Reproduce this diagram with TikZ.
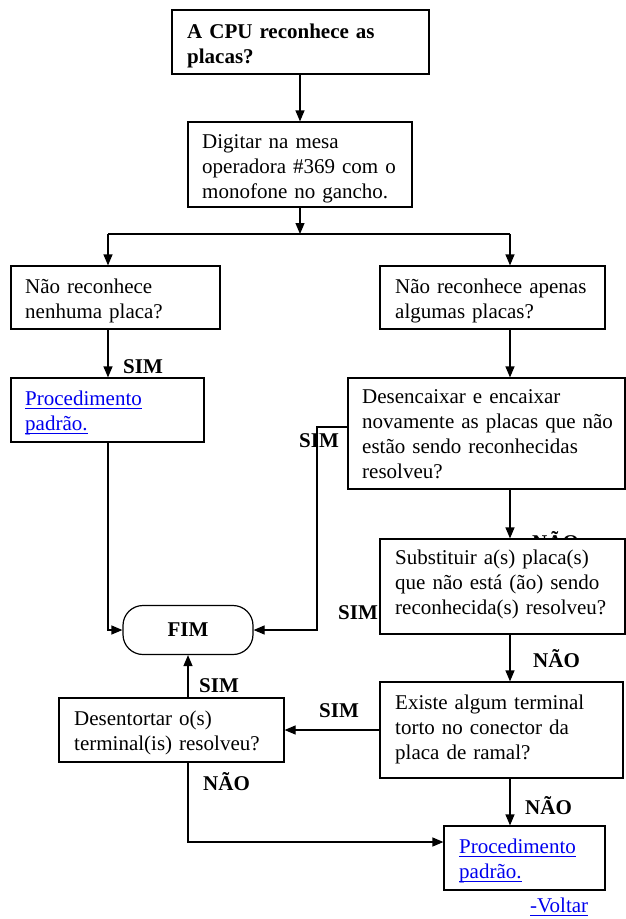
\documentclass[tikz,border=0pt]{standalone}
\usepackage{fontspec}
\setmainfont{Liberation Serif}
\usetikzlibrary{arrows.meta}
\definecolor{linkblue}{RGB}{0,0,238}
\newsavebox{\lnkbox}
\newcommand{\lnk}[1]{\textcolor{linkblue}{\sbox{\lnkbox}{#1}\rlap{\rule[-3.8pt]{\wd\lnkbox}{1.1pt}}\usebox{\lnkbox}}}
\begin{document}
\begin{tikzpicture}[x=1pt,y=-1pt,
 every node/.style={font=\fontsize{21}{25.2}\selectfont},
 box/.style={draw, line width=1.2pt, fill=white, inner sep=0pt},
 txt/.style={anchor=base west, align=left, inner sep=0pt, text width=300pt},
 lab/.style={anchor=base west, inner sep=0pt, font=\fontsize{21}{25.2}\selectfont\bfseries},
 arr/.style={line width=1.2pt, -{Triangle[length=11pt,width=9pt]}},
 ln/.style={line width=1.2pt}]
\useasboundingbox[fill=white] (0,0) rectangle (626,919);

% labels (drawn first so boxes can cover them)
\node[lab] (l1) at (123,373) {SIM};
\node[lab] (l2) at (299,447) {SIM};
\node[lab] (l3) at (532,549) {NÃO};
\node[lab] (l4) at (338,619) {SIM};
\node[lab] (l5) at (533,667) {NÃO};
\node[lab] (l6) at (319,717) {SIM};
\node[lab] (l7) at (199,692) {SIM};
\node[lab] (l8) at (203,790) {NÃO};
\node[lab] (l9) at (525,814) {NÃO};

% boxes
\node[box, minimum width=257pt, minimum height=64pt] (b1) at (300.5,42) {};
\node[box, minimum width=224pt, minimum height=85pt] (b2) at (300,164.5) {};
\node[box, minimum width=209pt, minimum height=63pt] (b3) at (115.5,297.5) {};
\node[box, minimum width=225pt, minimum height=63pt] (b4) at (492.5,297.5) {};
\node[box, minimum width=193pt, minimum height=64pt] (b5) at (107.5,410) {};
\node[box, minimum width=277pt, minimum height=111pt] (b6) at (486.5,433.5) {};
\node[box, minimum width=245pt, minimum height=95pt] (b7) at (502.5,586.5) {};
\node[box, minimum width=243pt, minimum height=96pt] (b8) at (501.5,730) {};
\node[box, minimum width=225pt, minimum height=64pt] (b9) at (171.5,730) {};
\node[box, minimum width=161pt, minimum height=64pt] (b10) at (524.5,858) {};
\node[box, rounded corners=20pt, minimum width=130pt, minimum height=49pt,
      font=\fontsize{21}{25.2}\selectfont\bfseries] (fim) at (188,630) {FIM};

% texts
\node[txt, font=\fontsize{21}{25.2}\selectfont\bfseries] (t1) at (187,38) {A CPU reconhece as\\placas?};
\node[txt] (t2) at (202,148) {Digitar na mesa\\operadora \#369 com o\\monofone no gancho.};
\node[txt] (t3) at (25,293) {Não reconhece\\nenhuma placa?};
\node[txt] (t4) at (395,293) {Não reconhece apenas\\algumas placas?};
\node[txt] (t5) at (25,405) {\lnk{Procedimento}\\\lnk{padrão.}};
\node[txt] (t6) at (362,403) {Desencaixar e encaixar\\novamente as placas que não\\estão sendo reconhecidas\\resolveu?};
\node[txt] (t7) at (395,564) {Substituir a(s) placa(s)\\que não está (ão) sendo\\reconhecida(s) resolveu?};
\node[txt] (t8) at (395,709) {Existe algum terminal\\torto no conector da\\placa de ramal?};
\node[txt] (t9) at (74,725) {Desentortar o(s)\\terminal(is) resolveu?};
\node[txt] (t10) at (459,853) {\lnk{Procedimento}\\\lnk{padrão.}};
\node[txt] (t11) at (530,912) {\lnk{-Voltar}};

% helper coordinates
\coordinate (sp) at (300,234);
\coordinate (sl) at (108,234);
\coordinate (sr) at (510,234);
\coordinate (c1) at (317,427);
\coordinate (c2) at (188,842);
\coordinate (c3) at (330,730);

% connectors
\draw[arr] (b1.south -| sp) -- (b2.north -| sp);
\draw[arr] (b2.south -| sp) -- (sp);
\draw[ln] (sl) -- (sr);
\draw[arr] (sl) -- (sl |- b3.north);
\draw[arr] (sr) -- (sr |- b4.north);
\draw[arr] (b3.south -| sl) -- (b5.north -| sl);
\draw[arr] (b5.south -| sl) |- (fim.west);
\draw[arr] (b4.south -| sr) -- (b6.north -| sr);
\draw[arr] (c1 -| b6.west) -- (c1) |- (fim.east);
\draw[arr] (b6.south -| sr) -- (b7.north -| sr);
\draw[arr] (b7.south -| sr) -- (b8.north -| sr);
\draw[arr] (c3 -| b8.west) -- (c3 -| b9.east);
\draw[arr] (b8.south -| sr) -- (b10.north -| sr);
\draw[arr] (b9.north -| fim) -- (fim.south);
\draw[arr] (b9.south -| c2) -- (c2) -- (c2 -| b10.west);
\end{tikzpicture}
\end{document}
